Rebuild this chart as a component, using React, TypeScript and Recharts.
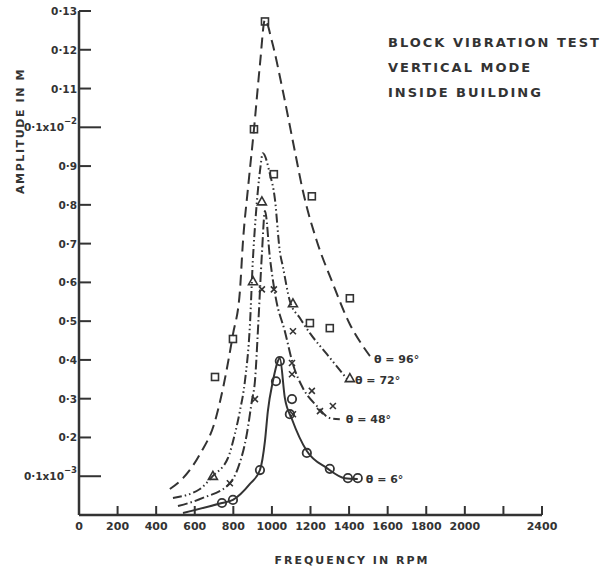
import { ComposedChart, XAxis, YAxis, Line, Scatter } from 'recharts';

const INK = '#333';
const FONT = '"DejaVu Sans", sans-serif';

// axis ticks (y values are in units of 0.1 x 10^-3 m)
const X_TICKS = [0, 200, 400, 600, 800, 1000, 1200, 1400, 1600, 1800, 2000, 2200, 2400];
const X_TICK_LABELS = ['0', '200', '400', '600', '800', '1000', '1200', '1400', '1600', '1800', '2000', '', '2400'];
const Y_TICKS = [1, 2, 3, 4, 5, 6, 7, 8, 9, 10, 11, 12, 13];
const Y_TICK_LABELS = ['0·1x10', '0·2', '0·3', '0·4', '0·5', '0·6', '0·7', '0·8', '0·9', '0·1x10', '0·11', '0·12', '0·13'];
const Y_TICK_EXPONENTS = ['−3', '', '', '', '', '', '', '', '', '−2', '', '', ''];

const TITLE_LINES = ['BLOCK VIBRATION TEST', 'VERTICAL MODE', 'INSIDE BUILDING'];

// fitted curves [rpm, amplitude]
const curve96 = [
  [471, 0.67], [539, 0.95], [627, 1.57], [705, 2.42], [751, 3.38], [798, 4.66], [834, 5.77],
  [850, 7.06], [876, 8.43], [907, 9.95], [938, 11.62], [964, 12.78], [1000, 12.22], [1057, 10.93],
  [1119, 9.38], [1161, 8.35], [1233, 7.06], [1311, 6.03], [1404, 4.92], [1471, 4.36], [1508, 4.1],
];
const curve72 = [
  [487, 0.44], [627, 0.67], [694, 1.01], [772, 1.47], [808, 2.09], [834, 2.68], [860, 3.45],
  [886, 4.9], [901, 6.55], [917, 7.76], [938, 8.87], [953, 9.33], [990, 8.79], [1015, 8.17],
  [1041, 6.8], [1057, 6.4], [1093, 5.52], [1145, 5.08], [1197, 4.69], [1285, 4.15], [1389, 3.51],
];
const curve48 = [
  [513, 0.23], [642, 0.44], [782, 0.82], [824, 1.21], [870, 2.09], [896, 2.94], [912, 3.45],
  [930, 5.0], [948, 6.73], [964, 7.84], [990, 6.62], [1020, 5.6], [1067, 4.74], [1109, 3.89],
  [1161, 3.27], [1233, 2.81], [1300, 2.5], [1352, 2.47],
];
const curve6 = [
  [539, 0.05], [741, 0.31], [798, 0.39], [886, 0.8], [938, 1.16], [964, 1.91], [979, 2.68],
  [1005, 3.45], [1031, 3.97], [1041, 4.05], [1067, 3.02], [1104, 2.47], [1181, 1.65],
  [1285, 1.21], [1378, 0.95], [1445, 0.93],
];

// measured points
const marks96 = [[964, 12.73], [907, 9.95], [1010, 8.79], [1207, 8.22], [1404, 5.59], [1300, 4.82], [1197, 4.95], [798, 4.54], [705, 3.56]];
const marks72 = [[948, 8.09], [902, 6.03], [1109, 5.46], [1404, 3.53], [694, 1.01]];
const marks48 = [[948, 5.82], [1010, 5.82], [1109, 4.74], [1104, 3.92], [1104, 3.63], [1207, 3.2], [1249, 2.68], [1316, 2.81], [912, 2.99], [782, 0.82], [1109, 2.6]];
const marks6 = [[1041, 3.97], [1021, 3.45], [1104, 2.99], [1093, 2.6], [1181, 1.6], [1300, 1.19], [1394, 0.95], [1445, 0.95], [938, 1.16], [798, 0.39], [741, 0.31]];

const toPts = (arr: number[][]) => arr.map(([x, y]) => ({ x, y }));

const TICK_MARGIN = 6;

const YTick = ({ x, y, payload }: any) => {
  const i = Y_TICKS.indexOf(payload.value);
  const axisX = x + TICK_MARGIN;
  const exp = Y_TICK_EXPONENTS[i];
  return (
    <g>
      <line x1={axisX} x2={axisX + (exp ? 22 : 12)} y1={y} y2={y} stroke={INK} strokeWidth={2} />
      <text x={axisX - 2} y={y} dy={4} textAnchor="end" fontFamily={FONT} fontWeight="bold" fontSize={10.5} fill={INK}>
        {Y_TICK_LABELS[i]}
        {exp && (
          <tspan dx={0} dy={-7} fontSize={8.5}>
            {exp}
          </tspan>
        )}
      </text>
    </g>
  );
};

const XTick = ({ x, y, payload }: any) => {
  const i = X_TICKS.indexOf(payload.value);
  const axisY = y - TICK_MARGIN;
  return (
    <g>
      <line x1={x} x2={x} y1={axisY} y2={axisY - 9} stroke={INK} strokeWidth={2} />
      <text x={x} y={axisY + 15} textAnchor="middle" fontFamily={FONT} fontWeight="bold" fontSize={11} fill={INK}>
        {X_TICK_LABELS[i]}
      </text>
    </g>
  );
};

const Square = ({ cx, cy }: any) => (
  <rect x={cx - 3.5} y={cy - 3.5} width={7} height={7} fill="none" stroke={INK} strokeWidth={1.6} />
);
const Triangle = ({ cx, cy }: any) => (
  <path d={`M${cx},${cy - 4.5}L${cx + 4.5},${cy + 3.5}L${cx - 4.5},${cy + 3.5}Z`} fill="none" stroke={INK} strokeWidth={1.6} />
);
const Cross = ({ cx, cy }: any) => (
  <path d={`M${cx - 3},${cy - 3}L${cx + 3},${cy + 3}M${cx + 3},${cy - 3}L${cx - 3},${cy + 3}`} stroke={INK} strokeWidth={1.6} />
);
const Ring = ({ cx, cy }: any) => <circle cx={cx} cy={cy} r={4.2} fill="none" stroke={INK} strokeWidth={1.8} />;

// theta label drawn after the last point of a curve
const endLabel = (text: string, count: number, dx: number, dy: number) => (props: any) => {
  if (props.index !== count - 1) return null;
  return (
    <text x={props.x + dx} y={props.y + dy} fontFamily={FONT} fontWeight="bold" fontSize={11} fill={INK}>
      {text}
    </text>
  );
};

const SERIES = [
  { name: 'θ = 96°', curve: curve96, marks: marks96, dash: '11 6', shape: Square, dx: 4, dy: 7 },
  { name: 'θ = 72°', curve: curve72, marks: marks72, dash: '9 3 1.5 3 1.5 3', shape: Triangle, dx: 8, dy: 5 },
  { name: 'θ = 48°', curve: curve48, marks: marks48, dash: '10 3 1.5 3', shape: Cross, dx: 6, dy: 4 },
  { name: 'θ = 6°', curve: curve6, marks: marks6, dash: undefined, shape: Ring, dx: 8, dy: 4 },
];

export default function App() {
  return (
    <div style={{ position: 'absolute', left: 0, top: 0, width: 609, height: 569, background: '#fff' }}>
      <ComposedChart width={609} height={569} margin={{ top: 11, right: 67, bottom: 0, left: 0 }}>
        <XAxis
          type="number"
          dataKey="x"
          domain={[0, 2400]}
          ticks={X_TICKS}
          interval={0}
          height={54}
          tickSize={0}
          tickMargin={TICK_MARGIN}
          tickLine={false}
          tick={<XTick />}
          axisLine={{ stroke: INK, strokeWidth: 2.5 }}
        />
        <YAxis
          type="number"
          domain={[0, 13]}
          ticks={Y_TICKS}
          interval={0}
          width={79}
          tickSize={0}
          tickMargin={TICK_MARGIN}
          tickLine={false}
          tick={<YTick />}
          axisLine={{ stroke: INK, strokeWidth: 2.5 }}
        />
        {SERIES.map((s) => (
          <Line
            key={`line-${s.name}`}
            data={toPts(s.curve)}
            dataKey="y"
            type="monotone"
            stroke={INK}
            strokeWidth={2}
            strokeDasharray={s.dash}
            dot={false}
            activeDot={false}
            isAnimationActive={false}
            label={endLabel(s.name, s.curve.length, s.dx, s.dy)}
          />
        ))}
        {SERIES.map((s) => (
          <Scatter
            key={`marks-${s.name}`}
            data={toPts(s.marks)}
            dataKey="y"
            shape={s.shape}
            isAnimationActive={false}
          />
        ))}
      </ComposedChart>
      <svg width={609} height={569} style={{ position: 'absolute', left: 0, top: 0, pointerEvents: 'none' }}>
        <g fontFamily={FONT} fontWeight="bold" fill={INK}>
          {TITLE_LINES.map((t, i) => (
            <text key={t} x={388} y={47 + i * 25} fontSize={13} letterSpacing={2}>
              {t}
            </text>
          ))}
          <text x={352} y={564} textAnchor="middle" fontSize={11} letterSpacing={2}>
            FREQUENCY IN RPM
          </text>
          <text x={24} y={131} textAnchor="middle" fontSize={11} letterSpacing={1.6} transform="rotate(-90 24 131)">
            AMPLITUDE IN M
          </text>
        </g>
      </svg>
    </div>
  );
}
